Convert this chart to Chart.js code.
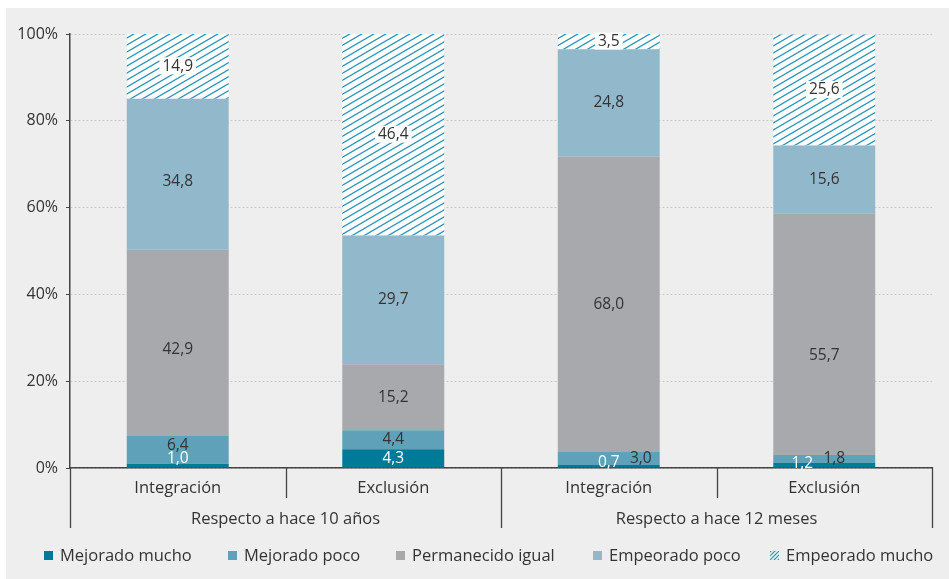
<!DOCTYPE html>
<html><head><meta charset="utf-8">
<script src="https://cdn.jsdelivr.net/npm/chart.js@4/dist/chart.umd.min.js"></script>
<style>html,body{margin:0;padding:0;background:#fff;}#wrap{width:949px;height:579px;}</style>
</head><body><div id="wrap"><canvas id="c" width="949" height="579"></canvas></div>
<script>
// ---- data ----
const categories = ['Integración', 'Exclusión', 'Integración', 'Exclusión'];
const groups = ['Respecto a hace 10 años', 'Respecto a hace 12 meses'];
const seriesNames = ['Mejorado mucho', 'Mejorado poco', 'Permanecido igual', 'Empeorado poco', 'Empeorado mucho'];
const mejoradoMucho    = [1.0, 4.3, 0.7, 1.2];
const mejoradoPoco     = [6.4, 4.4, 3.0, 1.8];
const permanecidoIgual = [42.9, 15.2, 68.0, 55.7];
const empeoradoPoco    = [34.8, 29.7, 24.8, 15.6];
const empeoradoMucho   = [14.9, 46.4, 3.5, 25.6];
const yTickValues = [0, 20, 40, 60, 80, 100];

// ---- styles ----
const FONT = "'Open Sans', 'DejaVu Sans', sans-serif";
const TEXT = '#333333';
const LINE = '#444444';
const HATCH_COLOR = '#2a95bb';

function makeHatch() {
  const w = 12, h = 7;
  const c = document.createElement('canvas');
  c.width = w; c.height = h;
  const x = c.getContext('2d');
  x.fillStyle = '#ffffff';
  x.fillRect(0, 0, w, h);
  x.strokeStyle = HATCH_COLOR;
  x.lineWidth = 1.3;
  for (const dy of [-h, 0, h]) {
    x.beginPath();
    x.moveTo(-1, h + dy + h / w);
    x.lineTo(w + 1, dy - h / w);
    x.stroke();
  }
  return x.createPattern(c, 'repeat');
}
const hatch = makeHatch();
const colors = ['#007a99', '#5ea1b9', '#a8a9ad', '#92b8cc', hatch];
const seriesData = [mejoradoMucho, mejoradoPoco, permanecidoIgual, empeoradoPoco, empeoradoMucho];

// per-label nudges "dataset-index": [dx, dy]
const labelNudge = {
  '0-0': [0, -7], '1-0': [0, -4], '2-0': [0, 7], '3-0': [0, 7],
  '0-2': [0, -4], '1-2': [32, 0],
  '0-3': [-22, -2], '1-3': [10, 0], '2-3': [0, 21]
};

const bgPlugin = {
  id: 'bg',
  beforeDraw(chart) {
    const ctx = chart.ctx;
    ctx.save();
    ctx.fillStyle = '#ffffff';
    ctx.fillRect(0, 0, chart.width, chart.height);
    ctx.fillStyle = '#eeeeee';
    ctx.fillRect(6, 8, chart.width - 6, chart.height - 8);
    ctx.restore();
  }
};

const labelPlugin = {
  id: 'vlabels',
  afterDatasetsDraw(chart) {
    const ctx = chart.ctx;
    ctx.save();
    ctx.font = '15.5px ' + FONT;
    ctx.textAlign = 'center';
    ctx.textBaseline = 'middle';
    chart.data.datasets.forEach((ds, di) => {
      const meta = chart.getDatasetMeta(di);
      meta.data.forEach((bar, i) => {
        const v = ds.data[i];
        const txt = v.toFixed(1).replace('.', ',');
        const n = labelNudge[di + '-' + i] || [0, 0];
        const x = bar.x + n[0];
        const y = (bar.y + bar.base) / 2 + n[1];
        if (di === 4) {
          const w = ctx.measureText(txt).width + 6;
          ctx.fillStyle = '#ffffff';
          ctx.fillRect(x - w / 2, y - 9, w, 17);
        }
        ctx.fillStyle = di === 0 ? '#ffffff' : TEXT;
        ctx.fillText(txt, x, y);
      });
    });
    ctx.restore();
  }
};

const axisPlugin = {
  id: 'groupAxis',
  afterDraw(chart) {
    const ctx = chart.ctx;
    const xs = chart.scales.x;
    const bottom = chart.chartArea.bottom;
    const cw = xs.getPixelForValue(1) - xs.getPixelForValue(0);
    const bounds = [];
    for (let i = 0; i <= categories.length; i++) bounds.push(xs.getPixelForValue(0) - cw / 2 + i * cw);
    ctx.save();
    ctx.strokeStyle = LINE;
    ctx.lineWidth = 1.3;
    bounds.forEach((b, i) => {
      const bx = Math.round(b) + 0.5;
      ctx.beginPath();
      ctx.moveTo(bx, bottom - 1);
      ctx.lineTo(bx, i % 2 === 0 ? bottom + 60 : bottom + 30);
      ctx.stroke();
    });
    ctx.fillStyle = TEXT;
    ctx.font = '16.5px ' + FONT;
    ctx.textAlign = 'center';
    ctx.textBaseline = 'middle';
    groups.forEach((g, gi) => {
      ctx.fillText(g, (bounds[gi * 2] + bounds[gi * 2 + 2]) / 2, bottom + 51);
    });
    // legend
    const lx = [44, 228, 396, 593, 770];
    const ly = 556;
    seriesNames.forEach((name, i) => {
      if (i < 4) {
        ctx.fillStyle = colors[i];
        ctx.fillRect(lx[i], ly - 5, 9, 9);
      } else {
        ctx.save();
        ctx.beginPath();
        ctx.rect(lx[i], ly - 5, 9, 9);
        ctx.clip();
        ctx.strokeStyle = HATCH_COLOR;
        ctx.lineWidth = 1.2;
        for (let k = -2; k <= 2; k++) {
          ctx.beginPath();
          ctx.moveTo(lx[i] + k * 4 - 2, ly + 6);
          ctx.lineTo(lx[i] + k * 4 + 10, ly - 6);
          ctx.stroke();
        }
        ctx.restore();
      }
      ctx.fillStyle = TEXT;
      ctx.textAlign = 'left';
      ctx.fillText(name, lx[i] + 16, ly);
    });
    ctx.restore();
  }
};

new Chart(document.getElementById('c'), {
  type: 'bar',
  data: {
    labels: categories,
    datasets: seriesNames.map((name, i) => ({
      label: name,
      data: seriesData[i],
      backgroundColor: colors[i],
      borderWidth: 0,
      barPercentage: 0.473,
      categoryPercentage: 1
    }))
  },
  options: {
    responsive: false,
    animation: false,
    devicePixelRatio: 1,
    layout: { padding: { left: 0, top: 34, right: 17, bottom: 0 } },
    plugins: { legend: { display: false }, tooltip: { enabled: false } },
    scales: {
      x: {
        stacked: true,
        grid: { display: false, drawTicks: false },
        border: { display: true, color: LINE, width: 1.5 },
        ticks: { color: TEXT, font: { family: FONT, size: 16.5 }, padding: 10 },
        afterFit(s) { s.height = 111; }
      },
      y: {
        stacked: true,
        min: 0, max: 100,
        afterBuildTicks(s) { s.ticks = yTickValues.map(v => ({ value: v })); },
        ticks: { color: TEXT, font: { family: FONT, size: 16 }, padding: 8, callback: v => v + '%' },
        grid: { color: '#c8c8c8', lineWidth: 1, tickColor: LINE, tickLength: 4, tickBorderDash: [] },
        border: { display: true, color: LINE, width: 1.5, dash: [2, 2] },
        afterFit(s) { s.width = 70; }
      }
    }
  },
  plugins: [bgPlugin, labelPlugin, axisPlugin]
});
</script>
</body></html>
